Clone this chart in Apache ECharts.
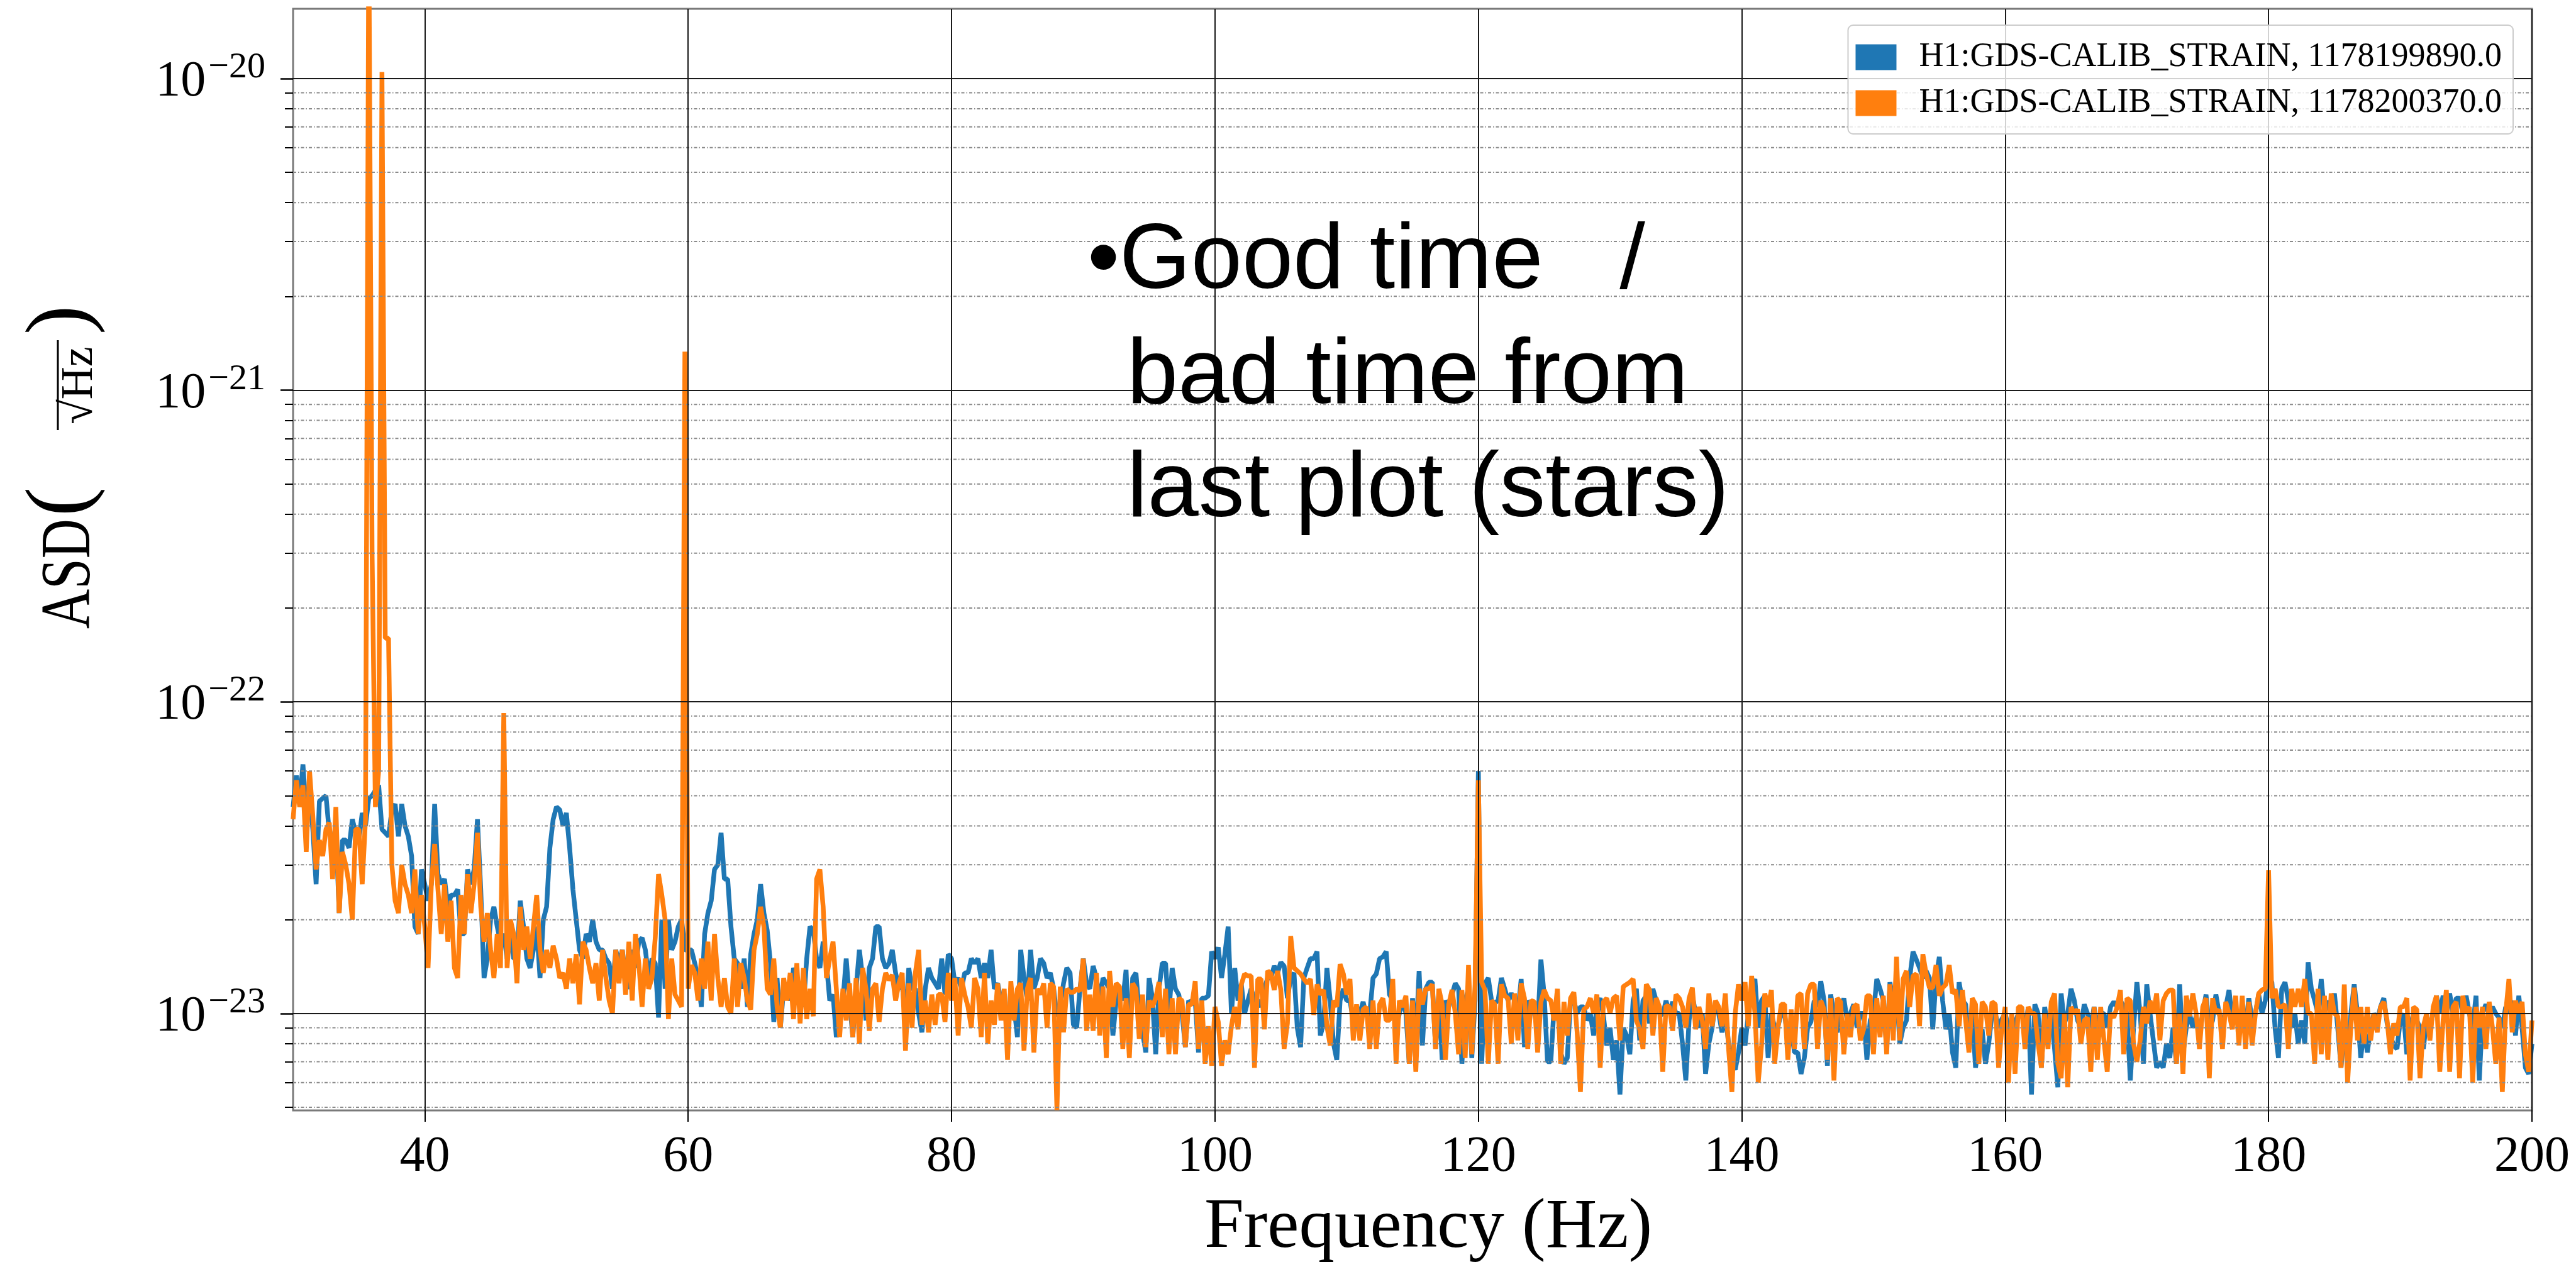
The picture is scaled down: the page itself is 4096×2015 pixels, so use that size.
<!DOCTYPE html>
<html><head><meta charset="utf-8">
<script src="https://cdn.jsdelivr.net/npm/echarts@6/dist/echarts.min.js"></script>
<style>html,body{margin:0;padding:0;background:#fff}#c{width:4096px;height:2015px}</style>
</head><body><div id="c"></div>
<script>
// Frequency grid of the spectra (Hz): first bin and bin width
const F0 = 30, DF = 0.25;
// ASD values are given in units of 1e-23 /sqrt(Hz)
const UNIT = 1e-23;
const blueName = 'H1:GDS-CALIB_STRAIN, 1178199890.0';
const orangeName = 'H1:GDS-CALIB_STRAIN, 1178200370.0';
const xTicks = [40, 60, 80, 100, 120, 140, 160, 180, 200];
const yMajor = [1e-23, 1e-22, 1e-21, 1e-20];
const yMinor = [5e-24, 6e-24, 7e-24, 8e-24, 9e-24,
  2e-23, 3e-23, 4e-23, 5e-23, 6e-23, 7e-23, 8e-23, 9e-23,
  2e-22, 3e-22, 4e-22, 5e-22, 6e-22, 7e-22, 8e-22, 9e-22,
  2e-21, 3e-21, 4e-21, 5e-21, 6e-21, 7e-21, 8e-21, 9e-21];
const yMin = 4.886e-24, yMax = 1.674e-20;
const xMin = 30, xMax = 200;

const blueASD = [
4.6,5.8,4.8,6.3, 4.4,5.0,3.9,2.6, 4.8,4.9,5.0,3.8, 3.5,4.0,2.1,3.6, 3.6,3.4,4.2,3.8,
3.6,4.4,4.0,4.9, 5.0,5.2,5.4,3.9, 3.8,3.7,4.5,4.7, 3.7,4.7,4.0,3.7, 3.2,1.9,1.8,2.9,
2.6,2.3,2.6,4.7, 2.8,2.6,2.7,2.2, 2.4,2.4,2.5,1.8, 1.8,2.9,2.6,2.9, 4.2,2.5,1.3,1.5,
2.0,2.2,1.9,1.7, 1.8,1.5,1.8,1.5, 1.5,2.3,1.9,1.5, 1.4,1.6,1.9,1.3, 2.0,2.2,3.4,4.2,
4.6,4.5,4.0,4.4, 3.4,2.5,2.0,1.6, 1.5,1.8,1.7,2.0, 1.7,1.6,1.6,1.5, 1.45,1.2,1.6,1.45,
1.6,1.3,1.2,1.6, 1.4,1.7,1.75,1.6, 1.3,1.5,1.45,0.97, 2.0,1.2,2.0,1.6, 1.7,1.9,2.0,1.6,
1.6,1.6,1.45,1.3, 1.05,1.8,2.1,2.3, 2.9,3.0,3.8,2.7, 2.7,1.9,1.5,1.45, 1.2,1.5,1.05,1.55,
1.8,2.0,2.6,2.1, 1.85,1.45,0.94,1.3, 0.9,1.2,1.25,1.1, 1.4,1.3,1.2,1.05, 1.5,1.9,1.85,1.5,
1.4,1.7,1.45,1.1, 1.15,0.84,1.0,1.1, 1.5,1.1,0.84,1.2, 1.6,1.3,0.95,1.4, 1.5,1.9,1.9,1.5,
1.4,1.45,1.6,1.35, 1.2,1.25,0.93,1.4, 1.2,1.2,1.0,0.87, 1.2,1.4,1.3,1.25, 1.2,1.5,1.15,1.55,
1.5,1.25,1.3,1.2, 1.35,1.35,1.5,1.45, 1.5,1.3,1.45,1.3, 1.6,1.2,1.25,1.1, 1.05,0.9,1.2,1.05,
0.84,1.6,1.3,1.1, 1.6,1.2,1.3,1.5, 1.45,1.3,1.35,1.2, 0.98,1.05,1.25,1.4, 1.35,0.92,0.9,1.2,
1.5,1.25,1.2,1.42, 1.3,1.1,1.3,1.25, 1.2,0.85,1.1,1.2, 1.1,1.38,0.78,1.3, 1.35,1.0,0.87,0.75,
1.3,1.12,0.74,1.2, 1.45,1.45,1.0,1.4, 1.2,1.15,1.0,0.78, 1.1,1.07,1.1,0.75, 1.12,1.12,1.14,1.58,
1.5,1.63,1.3,1.55, 1.9,1.0,1.4,1.1, 1.24,1.0,1.1,1.2, 1.1,1.1,1.05,1.2, 1.3,1.3,1.42,1.35,
1.46,1.42,1.12,1.3, 1.35,0.9,0.78,1.3, 1.4,1.5,1.5,1.58, 0.85,0.93,1.4,1.1, 0.8,0.71,1.1,1.2,
1.1,1.1,0.95,1.05, 1.0,1.09,0.98,1.0, 1.3,1.34,1.5,1.52, 1.58,1.15,1.1,0.89, 1.0,1.1,1.0,0.69,
1.12,0.8,1.37,0.79, 1.2,1.26,1.26,0.77, 1.15,0.71,1.1,1.05, 1.15,1.25,1.2,0.69, 1.1,1.2,0.72,1.1,
6.0,0.69,1.25,1.3, 1.1,1.08,1.1,1.3, 1.2,1.1,1.16,1.1, 1.0,1.29,0.78,1.1, 1.05,1.0,0.9,1.49,
1.14,0.7,0.7,1.05, 1.1,0.75,0.69,0.72, 1.1,1.1,1.0,1.05, 1.05,0.95,1.0,0.85, 1.05,1.12,0.98,0.79,
0.9,0.71,0.82,0.55, 0.9,0.85,0.74,1.1, 1.2,0.82,1.1,1.14, 0.93,1.2,1.1,1.0, 0.99,1.1,1.0,1.09,
1.0,1.0,0.8,0.61, 0.95,1.14,1.0,0.9, 1.0,0.64,0.8,0.9, 1.09,1.0,0.87,1.0, 0.8,0.7,0.66,0.75,
0.9,0.79,1.0,1.2, 1.29,0.9,1.1,1.14, 0.72,1.0,0.9,0.91, 1.0,1.0,0.82,0.9, 0.75,0.75,0.64,0.72,
0.9,0.94,1.1,1.05, 1.27,1.1,0.68,1.15, 1.0,0.87,1.0,1.12, 0.95,1.0,1.07,0.9, 1.0,1.0,0.71,0.95,
1.0,1.29,1.2,1.1, 0.77,1.26,1.1,1.2, 0.8,0.9,0.95,1.3, 1.58,1.49,1.4,1.3, 1.37,1.3,0.89,1.3,
1.52,1.1,0.89,1.0, 0.75,0.67,1.26,1.1, 1.07,0.77,1.0,0.67, 0.8,0.89,0.69,0.8, 1.0,1.0,0.9,0.96,
1.0,0.9,0.82,0.93, 1.0,1.05,0.85,1.05, 0.55,1.07,1.0,0.67, 1.05,0.9,1.0,0.77, 0.58,1.16,0.93,1.0,
1.2,1.1,0.95,0.9, 1.07,1.0,0.9,1.05, 0.9,1.0,1.0,0.9, 1.05,1.09,1.05,1.1, 1.05,1.0,0.61,0.9,
1.26,1.0,0.69,1.24, 1.0,0.82,0.67,0.7, 0.67,0.8,0.72,0.9, 0.69,1.24,0.74,0.9, 1.0,0.9,0.98,0.85,
1.0,1.15,0.9,0.95, 1.15,1.0,0.9,1.05, 1.19,0.93,1.0,0.9, 1.0,0.9,1.12,0.95, 1.0,1.15,1.0,1.1,
1.3,1.26,0.89,0.72, 1.2,1.26,1.1,0.9, 1.0,0.8,0.95,0.8, 1.46,1.2,1.1,1.0, 1.29,1.0,1.1,1.0,
1.16,0.9,0.67,0.89, 0.72,1.0,1.24,1.0, 0.72,0.9,0.75,0.9, 1.0,0.95,1.05,1.12, 0.93,0.85,0.79,0.77,
0.95,1.0,0.74,0.9, 1.0,0.95,0.9,0.77, 0.95,0.9,1.0,1.14, 1.0,1.14,1.0,1.16, 1.0,1.12,1.12,1.0,
1.14,1.0,0.9,1.14, 0.61,1.0,1.07,1.0, 1.05,1.0,0.97,0.9, 1.05,1.0,1.1,0.85, 1.14,0.9,0.67,0.64,
0.8];

const orangeASD = [
4.2,5.6,4.6,5.4, 3.3,6.0,4.3,2.9, 3.6,3.2,3.9,4.1, 2.7,4.6,2.1,3.3, 3.0,2.6,2.0,3.9,
3.9,2.6,4.2,3000, 30,4.6,6.0,1050, 16,16,3.0,2.3, 2.1,3.0,2.6,2.4, 2.1,2.9,1.8,2.4,
1.9,1.4,2.6,3.5, 2.5,1.8,2.6,1.7, 2.3,1.4,1.3,2.4, 1.8,2.8,2.1,2.6, 3.8,2.2,1.7,2.1,
1.6,1.3,1.8,1.4, 9.2,1.4,2.0,1.8, 1.25,2.2,1.6,1.9, 1.5,1.9,2.4,1.6, 1.35,1.6,1.4,1.65,
1.5,1.3,1.35,1.2, 1.5,1.25,1.55,1.07, 1.7,1.6,1.4,1.25, 1.45,1.1,1.6,1.3, 1.1,1.0,1.6,1.25,
1.6,1.15,1.7,1.1, 1.8,1.45,1.05,1.5, 1.2,1.3,1.75,2.8, 2.4,2.0,0.96,1.5, 1.15,1.1,1.05,133,
1.2,1.43,1.35,1.1, 1.5,1.2,1.7,1.1, 1.8,1.3,1.05,1.3, 1.05,1.0,1.5,1.05, 1.45,1.3,1.1,1.03,
1.6,1.8,2.2,1.9, 1.2,1.15,1.5,1.05, 0.9,1.3,1.1,1.35, 0.96,1.45,0.93,1.4, 0.96,1.2,0.98,2.7,
2.9,2.2,1.3,1.5, 1.7,1.2,0.84,1.2, 0.95,1.25,0.84,1.3, 0.8,1.4,1.2,0.88, 1.2,1.25,0.94,1.2,
1.35,1.28,1.33,1.1, 1.25,1.35,0.76,1.25, 0.9,1.35,1.6,0.92, 1.1,0.87,1.15,0.92, 1.15,1.15,0.94,1.35,
1.1,1.3,0.85,1.3, 1.15,1.05,0.9,1.3, 1.2,0.84,1.35,0.8, 1.1,0.92,1.25,0.95, 1.2,0.71,1.27,0.95,
1.2,1.25,0.76,1.2, 1.3,0.75,1.2,1.15, 1.25,0.9,1.25,1.22, 0.49,1.22,0.87,1.2, 1.17,1.17,1.2,1.18,
1.5,0.88,1.15,0.88, 1.35,0.85,1.22,0.72, 1.37,1.05,1.25,1.22, 0.77,1.12,0.72,1.25, 1.2,0.83,1.15,0.78,
1.1,1.05,1.12,1.26, 0.84,1.2,0.74,1.12, 0.74,1.12,1.1,0.78, 1.07,1.07,1.27,0.77, 1.1,0.69,0.91,0.68,
1.05,0.94,0.68,0.82, 0.74,0.91,1.05,0.89, 1.24,1.34,1.32,1.32, 0.67,1.29,1.29,0.89, 1.37,1.34,1.19,1.37,
1.19,0.77,0.93,1.77, 1.4,1.37,1.34,1.29, 1.25,1.29,0.99,1.24, 1.15,1.19,0.91,0.79, 1.1,1.05,1.44,1.34,
1.15,1.29,0.82,1.07, 0.82,1.03,1.05,0.77, 1.1,0.77,1.07,1.12, 0.95,0.95,1.29,0.69, 1.1,1.05,1.14,0.69,
1.1,0.65,1.2,1.07, 1.2,1.2,1.24,0.77, 1.2,1.07,0.71,1.07, 1.19,1.0,0.74,1.19, 0.72,1.43,0.74,1.24,
5.6,1.26,1.19,0.69, 1.1,1.07,0.69,1.24, 1.14,1.12,0.8,1.16, 0.82,1.25,1.12,0.77, 1.1,1.09,0.75,1.09,
1.19,1.12,1.1,0.95, 1.2,0.69,1.09,0.85, 1.12,1.17,0.87,0.56, 1.03,1.05,1.12,1.0, 1.15,0.67,1.09,1.12,
1.0,1.12,1.14,0.82, 1.22,1.24,1.26,1.29, 0.95,0.89,0.77,1.24, 1.19,0.85,1.12,1.05, 0.65,1.06,1.05,0.88,
1.15,1.12,1.05,0.9, 1.12,1.21,0.89,1.05, 0.95,0.77,1.16,0.91, 1.1,1.05,0.91,1.16, 0.77,0.56,1.0,1.24,
1.1,1.26,0.91,1.32, 1.0,0.6,0.79,1.16, 1.05,1.19,0.69,0.9, 1.07,1.07,0.71,1.03, 0.77,1.14,1.16,0.77,
1.16,1.24,1.24,0.77, 1.1,1.03,0.71,1.12, 0.61,1.12,1.09,0.74, 1.0,0.84,1.05,1.07, 0.82,0.89,1.14,1.14,
0.74,1.12,0.84,1.14, 0.74,1.24,0.82,1.52, 0.82,1.29,1.37,1.05, 1.32,1.34,0.91,1.55, 1.34,1.21,1.21,1.43,
1.14,1.21,1.24,1.43, 1.16,1.19,0.91,1.19, 0.95,0.75,1.12,1.07, 0.69,1.09,1.05,0.85, 1.09,1.07,0.67,0.91,
1.05,0.6,1.0,0.64, 1.05,1.05,0.77,1.05, 1.0,1.0,0.8,0.67, 1.0,0.77,1.09,1.16, 0.69,0.62,1.0,0.58,
1.05,1.0,1.03,0.8, 0.95,0.97,0.65,1.05, 0.71,1.05,0.82,0.65, 1.0,0.97,1.05,1.19, 0.74,1.12,1.1,0.8,
0.7,0.82,1.05,0.93, 1.1,1.0,1.16,0.82, 1.1,1.16,1.19,1.19, 0.69,1.0,0.64,1.14, 0.98,1.16,1.0,0.77,
1.05,1.12,0.62,1.12, 1.0,1.03,0.77,1.09, 1.0,0.89,1.14,0.79, 1.14,0.77,1.09,0.79, 1.0,1.16,1.19,1.2,
2.88,1.12,1.2,1.05, 1.05,1.07,0.77,1.2, 1.05,1.2,1.05,1.29, 1.0,1.0,0.69,1.2, 0.74,1.14,0.71,1.16,
1.0,0.98,0.67,1.24, 0.6,0.91,1.21,0.82, 1.05,0.8,1.05,0.82, 1.0,0.87,1.05,1.09, 0.95,0.74,0.93,0.85,
1.05,1.05,1.12,0.61, 1.05,1.03,0.62,0.91, 1.0,0.82,1.05,1.14, 0.65,0.95,1.19,0.65, 1.05,1.09,0.62,1.14,
1.0,1.05,0.6,1.05, 0.9,1.05,0.77,1.09, 0.9,0.69,0.97,0.56, 1.0,1.29,0.87,1.1, 1.0,1.09,0.74,0.65,
0.95];

const SERIF = '"Liberation Serif", "DejaVu Serif", serif';
const SANS = '"Liberation Sans", Arial, sans-serif';
const toPairs = arr => arr.map((v, i) => [F0 + i * DF, v * UNIT]);

const chart = echarts.init(document.getElementById('c'), null, {renderer: 'canvas'});
const R = Math.PI / 2;

// minor (dotted) grid lines of the log axis, drawn through the axis scale
const minorGridSeries = yMinor.map(v => ({
  type: 'line', silent: true, z: 4, symbol: 'none', showSymbol: false, clip: true,
  data: [[xMin, v], [xMax, v]],
  lineStyle: {color: '#8a8a8a', width: 2, type: [5, 3, 1.5, 3]},
  emphasis: {disabled: true}, tooltip: {show: false}
}));

const option = {
  animation: false,
  backgroundColor: '#ffffff',
  grid: {left: 466, right: 70, top: 14, bottom: 247, show: true,
         borderColor: '#7a7a7a', borderWidth: 3, backgroundColor: 'transparent'},
  legend: {
    orient: 'vertical', right: 100, top: 40, z: 20,
    itemWidth: 65, itemHeight: 41, itemGap: 19, icon: 'rect',
    padding: [24, 18, 22, 12],
    backgroundColor: 'rgba(255,255,255,0.8)', borderColor: '#cccccc', borderWidth: 2, borderRadius: 8,
    textStyle: {fontFamily: SERIF, fontSize: 54, color: '#000', padding: [0, 0, 0, 31]},
    data: [blueName, orangeName]
  },
  xAxis: {
    type: 'value', min: xMin, max: xMax, splitNumber: 8, z: 5,
    axisLine: {show: false},
    axisTick: {show: true, inside: false, length: 18, customValues: xTicks, lineStyle: {color: '#000', width: 2}},
    axisLabel: {customValues: xTicks, fontFamily: SERIF, fontSize: 80, color: '#000', margin: 35},
    splitLine: {show: true, lineStyle: {color: '#1a1a1a', width: 2}},
    name: 'Frequency (Hz)', nameLocation: 'middle', nameGap: 131,
    nameTextStyle: {fontFamily: SERIF, fontSize: 113, color: '#000', padding: [0, 0, 0, 50]}
  },
  yAxis: [{
    type: 'log', logBase: 10, min: yMin, max: yMax, z: 5,
    axisLine: {show: false},
    axisTick: {show: true, inside: false, length: 20, customValues: yMajor, lineStyle: {color: '#000', width: 2.5}},
    axisLabel: {
      customValues: yMajor, margin: 44,
      formatter: v => '{b|10}{s|\u2212' + Math.abs(Math.round(Math.log10(v))) + '}',
      rich: {
        b: {fontFamily: SERIF, fontSize: 80, color: '#000', verticalAlign: 'bottom'},
        s: {fontFamily: SERIF, fontSize: 58, color: '#000', verticalAlign: 'bottom', padding: [0, 0, 34, 4]}
      }
    },
    splitLine: {show: true, lineStyle: {color: '#1a1a1a', width: 2}}
  }, {
    type: 'log', logBase: 10, min: yMin, max: yMax, z: 5, position: 'left', offset: 0,
    axisLine: {show: false}, axisLabel: {show: false}, splitLine: {show: false},
    axisTick: {show: true, inside: false, length: 13, customValues: yMinor, lineStyle: {color: '#000', width: 2}}
  }],
  series: [{
    name: blueName, type: 'line', data: toPairs(blueASD), yAxisIndex: 0, z: 2,
    showSymbol: false, symbol: 'none', clip: true,
    lineStyle: {color: '#1f77b4', width: 7.5}, itemStyle: {color: '#1f77b4'}
  }, {
    name: orangeName, type: 'line', data: toPairs(orangeASD), yAxisIndex: 0, z: 3,
    showSymbol: false, symbol: 'none', clip: true,
    lineStyle: {color: '#ff7f0e', width: 7.5}, itemStyle: {color: '#ff7f0e'}
  }].concat(minorGridSeries),
  graphic: [
    // y-axis title: ASD ( 1 / sqrt(Hz) ) rotated
    {type: 'text', x: 113, y: 1000, rotation: R, scaleX: 0.78, z: 10,
     style: {text: 'ASD', font: '112px ' + SERIF, fill: '#000', align: 'left', verticalAlign: 'middle'}},
    {type: 'text', x: 100, y: 798, rotation: R, z: 10,
     style: {text: '(', font: '140px ' + SERIF, fill: '#000', align: 'center', verticalAlign: 'middle'}},
    {type: 'line', z: 10, shape: {x1: 92, y1: 684, x2: 92, y2: 541}, style: {stroke: '#000', lineWidth: 3}},
    {type: 'text', x: 127, y: 613, rotation: R, z: 10,
     style: {text: '\u221AHz', font: '72px ' + SERIF, fill: '#000', align: 'center', verticalAlign: 'middle'}},
    {type: 'text', x: 100, y: 509, rotation: R, z: 10,
     style: {text: ')', font: '140px ' + SERIF, fill: '#000', align: 'center', verticalAlign: 'middle'}},
    // overlay annotation
    {type: 'text', x: 1729, y: 418, z: 30,
     style: {text: '\u2022Good time   /', font: '146px ' + SANS, fill: '#000', align: 'left', verticalAlign: 'middle'}},
    {type: 'text', x: 1792, y: 601, z: 30,
     style: {text: 'bad time from', font: '146px ' + SANS, fill: '#000', align: 'left', verticalAlign: 'middle'}},
    {type: 'text', x: 1792, y: 781, z: 30,
     style: {text: 'last plot (stars)', font: '146px ' + SANS, fill: '#000', align: 'left', verticalAlign: 'middle'}}
  ]
};
chart.setOption(option);
</script>
</body></html>
